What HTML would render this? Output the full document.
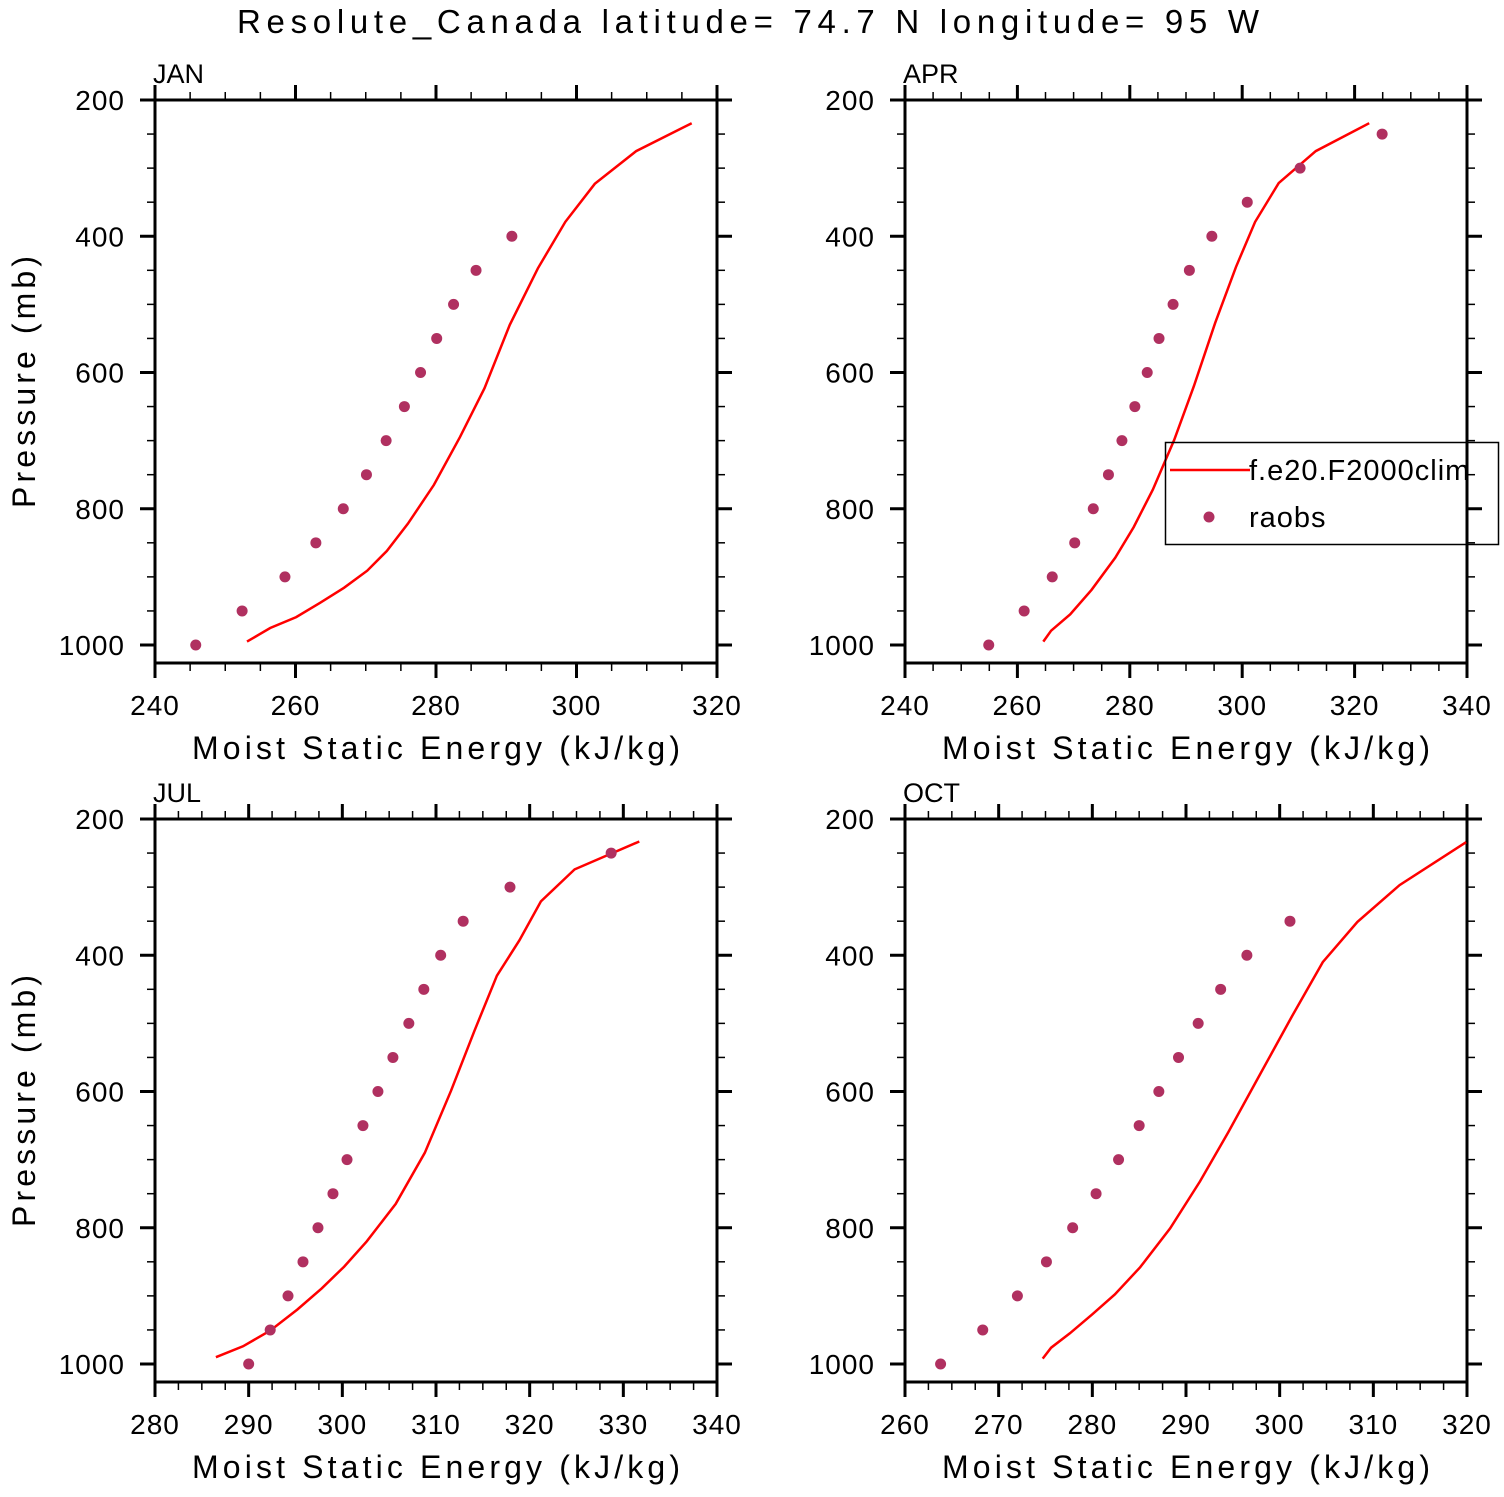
<!DOCTYPE html>
<html><head><meta charset="utf-8"><style>
body{margin:0;background:#fff}
svg text{font-family:"Liberation Sans",sans-serif;fill:#000}
</style></head><body>
<svg id="chart" width="1504" height="1492" xmlns="http://www.w3.org/2000/svg">
<text x="748" y="33" font-size="33" text-anchor="middle" textLength="1022" lengthAdjust="spacing">Resolute_Canada  latitude= 74.7 N longitude= 95 W</text>
</svg>
<script>
const panelNames = ["JAN","APR","JUL","OCT"];
const xMins = [240,240,280,260];
const xMaxs = [320,340,340,320];
const xSteps = [20,20,10,10];
const yTicks = [200,400,600,800,1000];
const linePJan = [995,975,959,938,916,891,862,822,765,695,623,530,447,379,323,275,234];
const lineXJan = [253.1,256.4,260.1,263.5,266.9,270.2,273.0,276.0,279.7,283.4,286.9,290.5,294.5,298.4,302.6,308.5,316.4];
const linePApr = [995,979,955,919,872,827,772,699,620,527,445,379,322,275,234];
const lineXApr = [264.6,266.0,269.4,273.2,277.4,280.7,284.1,287.9,291.4,295.2,298.9,302.3,306.5,313.1,322.6];
const linePJul = [990,974,951,920,889,857,820,765,690,599,511,430,378,321,274,233];
const lineXJul = [286.5,289.4,292.3,295.2,297.8,300.2,302.6,305.7,308.8,311.6,314.1,316.5,318.9,321.2,324.8,331.7];
const linePOct = [992,976,955,927,898,858,801,732,660,580,490,410,351,297,234];
const lineXOct = [274.7,275.6,277.6,280.0,282.4,285.1,288.3,291.5,294.5,297.7,301.3,304.6,308.3,312.8,319.9];
const dotPJan = [1000,950,900,850,800,750,700,650,600,550,500,450,400];
const dotXJan = [245.8,252.4,258.5,262.9,266.8,270.1,272.9,275.5,277.8,280.1,282.5,285.7,290.8];
const dotPApr = [1000,950,900,850,800,750,700,650,600,550,500,450,400,350,300,250];
const dotXApr = [254.9,261.2,266.2,270.2,273.5,276.2,278.6,280.9,283.1,285.2,287.7,290.6,294.6,300.9,310.3,324.9];
const dotPJul = [1000,950,900,850,800,750,700,650,600,550,500,450,400,350,300,250];
const dotXJul = [290.0,292.3,294.2,295.8,297.4,299.0,300.5,302.2,303.8,305.4,307.1,308.7,310.5,312.9,317.9,328.7];
const dotPOct = [1000,950,900,850,800,750,700,650,600,550,500,450,400,350];
const dotXOct = [263.8,268.3,272.0,275.1,277.9,280.4,282.8,285.0,287.1,289.2,291.3,293.7,296.5,301.1];

const lineP=[linePJan,linePApr,linePJul,linePOct], lineX=[lineXJan,lineXApr,lineXJul,lineXOct];
const dotP=[dotPJan,dotPApr,dotPJul,dotPOct], dotX=[dotXJan,dotXApr,dotXJul,dotXOct];
const svg=document.getElementById('chart');
const NS="http://www.w3.org/2000/svg";
function mk(tag,attrs,parent){const e=document.createElementNS(NS,tag);for(const k in attrs)e.setAttribute(k,attrs[k]);(parent||svg).appendChild(e);return e;}
const W=562, pxPerMb=545/800;
for(let i=0;i<4;i++){
  const L=i%2?905:155, T=i<2?100:819, B=T+563;
  const g=mk('g',{});
  
  
  const sx=v=>L+(v-xMins[i])/(xMaxs[i]-xMins[i])*W;
  const sy=p=>T+(p-200)*pxPerMb;
  const fr=mk('rect',{x:L,y:T,width:W,height:B-T,fill:'none',stroke:'#000','stroke-width':3},g);
  
  
  for(let p=200;p<=1000;p+=50){
    const maj=p%200===0, len=maj?15:8, y=sy(p);
    mk('line',{x1:L-len,y1:y,x2:L,y2:y,stroke:'#000','stroke-width':maj?3:1.5},g);
    mk('line',{x1:L+W,y1:y,x2:L+W+len,y2:y,stroke:'#000','stroke-width':maj?3:1.5},g);
  }
  yTicks.forEach(p=>{
    const t=mk('text',{x:L-30,y:sy(p)+10,'font-size':28,'letter-spacing':1,'text-anchor':'end'},g);
    t.textContent=p;
    
    
  });
  const minor=xSteps[i]/4;
  for(let v=xMins[i];v<=xMaxs[i]+1e-6;v+=minor){
    const k=Math.round((v-xMins[i])/minor), maj=k%4===0, len=maj?15:8, x=sx(v);
    mk('line',{x1:x,y1:B,x2:x,y2:B+len,stroke:'#000','stroke-width':maj?3:1.5},g);
    mk('line',{x1:x,y1:T-len,x2:x,y2:T,stroke:'#000','stroke-width':maj?3:1.5},g);
  }
  for(let v=xMins[i];v<=xMaxs[i];v+=xSteps[i]){
    const t=mk('text',{x:sx(v),y:B+52,'font-size':28,'letter-spacing':1,'text-anchor':'middle'},g);
    t.textContent=v;
    
    
  }
  const xt=mk('text',{x:L+W/2,y:B+96,'font-size':32,'text-anchor':'middle',textLength:488,lengthAdjust:'spacing'},g);
  xt.textContent='Moist Static Energy (kJ/kg)';
  
  
  const pl=mk('text',{x:L-2,y:T-17,'font-size':27},g);
  pl.textContent=panelNames[i];
  
  
  if(i%2===0){
    const yt=mk('text',{x:0,y:0,'font-size':32,'text-anchor':'middle',transform:`translate(35,${T+282}) rotate(-90)`,textLength:252,lengthAdjust:'spacing'},g);
    yt.textContent='Pressure (mb)';
    
    
  }
  const pts=lineX[i].map((v,j)=>sx(v).toFixed(1)+','+sy(lineP[i][j]).toFixed(1)).join(' ');
  const ln=mk('polyline',{points:pts,fill:'none',stroke:'#ff0000','stroke-width':2.5},g);
  
  
  dotX[i].forEach((v,j)=>{
    const c=mk('circle',{cx:sx(v),cy:sy(dotP[i][j]),r:5.5,fill:'#b03060'},g);
    
    
  });
}
const lg=mk('g',{});


mk('rect',{x:1165.5,y:442.5,width:333,height:102,fill:'none',stroke:'#000','stroke-width':1.5},lg);
mk('line',{x1:1170,y1:470,x2:1250,y2:470,stroke:'#ff0000','stroke-width':2.5},lg);
const l1=mk('text',{x:1249,y:480,'font-size':29,'letter-spacing':1},lg);
l1.textContent='f.e20.F2000clim';


mk('circle',{cx:1209,cy:517,r:5.5,fill:'#b03060'},lg);
const l2=mk('text',{x:1249,y:527,'font-size':29,'letter-spacing':1},lg);
l2.textContent='raobs';


</script>
</body></html>
